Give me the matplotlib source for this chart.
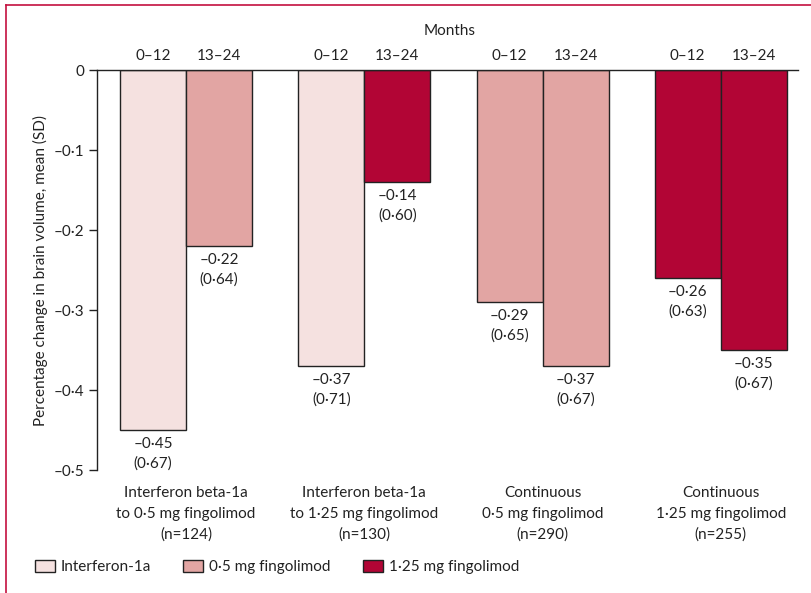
import numpy as np
import matplotlib
matplotlib.use("Agg")
import matplotlib.pyplot as plt
from matplotlib.patches import Patch
from matplotlib.lines import Line2D

plt.rcParams['font.family'] = ['Lato', 'DejaVu Sans']
plt.rcParams['font.size'] = 11

# data
groups = ["Interferon beta-1a\nto 0·5 mg fingolimod\n(n=124)",
          "Interferon beta-1a\nto 1·25 mg fingolimod\n(n=130)",
          "Continuous\n0·5 mg fingolimod\n(n=290)",
          "Continuous\n1·25 mg fingolimod\n(n=255)"]
periods = ["0–12", "13–24"]
means_0_12 = [-0.45, -0.37, -0.29, -0.26]
sd_0_12 = [0.67, 0.71, 0.65, 0.63]
means_13_24 = [-0.22, -0.14, -0.37, -0.35]
sd_13_24 = [0.64, 0.60, 0.67, 0.67]
# treatment in each bar: 0 = interferon, 1 = 0.5 mg, 2 = 1.25 mg
treat_0_12 = [0, 0, 1, 2]
treat_13_24 = [1, 2, 1, 2]
legend_labels = ["Interferon-1a", "0·5 mg fingolimod", "1·25 mg fingolimod"]
colors = ["#f5e1e0", "#e2a5a3", "#b20535"]
yticks = [0, -0.1, -0.2, -0.3, -0.4, -0.5]


def fmt(v, nd=2):
    s = f"{abs(v):.{nd}f}".replace(".", "·")
    return ("–" + s) if v < 0 else s


fig = plt.figure(figsize=(8.11, 5.93), dpi=100)
ax = fig.add_axes([97 / 811, 1 - 470 / 593, 701 / 811, 400 / 593])

w = 1.0
centers = 1.35 + 2.7 * np.arange(len(groups))

for i, c in enumerate(centers):
    for j, (m, sd, t) in enumerate([(means_0_12[i], sd_0_12[i], treat_0_12[i]),
                                     (means_13_24[i], sd_13_24[i], treat_13_24[i])]):
        x = c - w / 2 + j * w
        ax.bar(x, m, width=w, color=colors[t], edgecolor="#222222", linewidth=1.0)
        ax.text(x, m - 0.009, fmt(m) + "\n(" + fmt(sd) + ")", ha="center", va="top",
                linespacing=1.45, color="#222222")
        ax.text(x, 0.009, periods[j], ha="center", va="bottom", color="#222222")
    ax.text(c, -0.52, groups[i], ha="center", va="top", linespacing=1.62, color="#222222")

ax.text(0.5035, 1.098, "Months", transform=ax.transAxes, ha="center", va="center",
        color="#222222")

ax.set_xlim(0, 701 / 66)
ax.set_ylim(-0.5, 0)
ax.set_yticks(yticks)
ax.set_yticklabels([fmt(v, 1) if v != 0 else "0" for v in yticks], color="#222222")
ax.set_xticks([])
ax.tick_params(axis="y", direction="out", length=6, width=1, color="#222222", pad=3)
for s in ["bottom", "right"]:
    ax.spines[s].set_visible(False)
for s in ["left", "top"]:
    ax.spines[s].set_color("#222222")
    ax.spines[s].set_linewidth(1.0)
ax.set_ylabel("Percentage change in brain volume, mean (SD)", color="#222222", labelpad=4)

handles = [Patch(facecolor=colors[k], edgecolor="#222222", linewidth=1.0) for k in range(3)]
fig.legend(handles, legend_labels, loc="center left", bbox_to_anchor=(35 / 811, 1 - 567 / 593),
           ncol=3, frameon=False, handlelength=1.3, handleheight=0.8, handletextpad=0.4,
           columnspacing=2.1, borderaxespad=0, borderpad=0, labelcolor="#222222")

# crimson frame lines
fig.add_artist(Line2D([6 / 811, 6 / 811], [0, 1 - 5 / 593], color="#c4113f", linewidth=1.2))
fig.add_artist(Line2D([6 / 811, 1], [1 - 5 / 593, 1 - 5 / 593], color="#c4113f", linewidth=1.2))

fig.savefig("out.png", dpi=100)
